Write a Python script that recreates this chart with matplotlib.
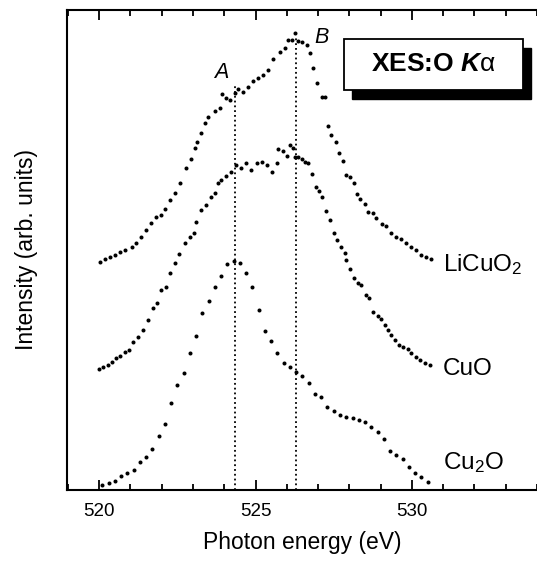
import matplotlib
matplotlib.use('Agg')
import matplotlib.pyplot as plt
from matplotlib.patches import Rectangle
from matplotlib.ticker import MultipleLocator

plt.rcParams['font.family'] = ['Liberation Sans', 'DejaVu Sans']
plt.rcParams['mathtext.fontset'] = 'custom'
plt.rcParams['mathtext.rm'] = 'Liberation Sans'
plt.rcParams['mathtext.it'] = 'Liberation Sans:italic'
plt.rcParams['mathtext.bf'] = 'Liberation Sans:bold:italic'

# --- data (photon energy in eV, intensity in arb. units) ---
licuo2_e = [520.02, 520.18, 520.34, 520.50, 520.66, 520.82, 521.04, 521.19, 521.35, 521.51,
            521.67, 521.83, 521.99, 522.10, 522.26, 522.42, 522.58, 522.79, 522.95, 523.06,
            523.14, 523.27, 523.38, 523.48, 523.70, 523.86, 523.94, 524.07, 524.18, 524.34,
            524.44, 524.60, 524.76, 524.92, 525.08, 525.24, 525.40, 525.56, 525.77, 525.93,
            526.04, 526.15, 526.25, 526.36, 526.47, 526.63, 526.73, 526.84, 526.96, 527.11,
            527.21, 527.32, 527.42, 527.56, 527.67, 527.80, 527.90, 528.03, 528.14, 528.24,
            528.35, 528.49, 528.59, 528.75, 528.86, 529.05, 529.18, 529.34, 529.50, 529.66,
            529.82, 529.98, 530.14, 530.30, 530.46, 530.62]
licuo2_i = [228, 231, 233, 235, 238, 240, 243, 247, 253, 260,
            267, 273, 275, 281, 290, 297, 307, 322, 331, 342,
            348, 357, 367, 373, 379, 382, 396, 392, 390, 397,
            401, 398, 403, 409, 412, 415, 420, 431, 438, 442,
            450, 450, 457, 449, 448, 445, 437, 422, 407, 393,
            393, 364, 355, 348, 337, 329, 315, 313, 307, 296,
            291, 286, 278, 277, 272, 266, 264, 257, 253, 251,
            247, 243, 240, 235, 233, 231]

cuo_e = [520.00, 520.13, 520.29, 520.40, 520.53, 520.66, 520.82, 520.96, 521.09, 521.25,
         521.41, 521.57, 521.73, 521.85, 521.99, 522.15, 522.26, 522.42, 522.56, 522.74,
         522.90, 523.03, 523.11, 523.27, 523.43, 523.59, 523.70, 523.80, 523.91, 524.07,
         524.23, 524.39, 524.55, 524.71, 524.87, 525.03, 525.19, 525.35, 525.54, 525.67,
         525.72, 525.88, 525.99, 526.09, 526.20, 526.25, 526.36, 526.47, 526.57, 526.68,
         526.82, 526.92, 527.03, 527.14, 527.24, 527.37, 527.50, 527.60, 527.74, 527.85,
         527.90, 528.01, 528.14, 528.27, 528.38, 528.52, 528.63, 528.75, 528.91, 529.02,
         529.13, 529.23, 529.34, 529.45, 529.58, 529.71, 529.87, 529.98, 530.12, 530.25,
         530.41, 530.57]
cuo_i = [121, 123, 125, 128, 132, 134, 138, 140, 148, 153,
         160, 170, 182, 187, 200, 203, 217, 227, 236, 247,
         253, 257, 268, 280, 285, 293, 297, 307, 310, 314,
         318, 325, 322, 327, 320, 327, 328, 325, 318, 327,
         341, 339, 334, 345, 342, 333, 333, 331, 328, 327,
         316, 303, 299, 293, 279, 270, 257, 250, 243, 237,
         230, 221, 212, 207, 205, 195, 192, 178, 174, 171,
         165, 160, 155, 150, 145, 143, 141, 137, 133, 130,
         127, 125]

cu2o_e = [520.1, 520.3, 520.5, 520.7, 520.9, 521.1, 521.3, 521.5, 521.7, 521.9,
          522.1, 522.3, 522.5, 522.7, 522.9, 523.1, 523.3, 523.5, 523.7, 523.9,
          524.1, 524.3, 524.5, 524.7, 524.9, 525.1, 525.3, 525.5, 525.7, 525.9,
          526.1, 526.3, 526.5, 526.7, 526.9, 527.1, 527.3, 527.5, 527.7, 527.9,
          528.1, 528.3, 528.5, 528.7, 528.9, 529.1, 529.3, 529.5, 529.7, 529.9,
          530.1, 530.3, 530.5]
cu2o_i = [5, 7, 9, 14, 17, 20, 28, 33, 41, 54,
          66, 87, 105, 117, 137, 154, 177, 189, 203, 214,
          226, 229, 227, 217, 203, 180, 159, 149, 137, 127,
          123, 118, 114, 107, 96, 93, 83, 79, 75, 73,
          72, 70, 68, 63, 58, 51, 39, 35, 31, 23,
          17, 13, 8]

names = ['LiCuO$_2$', 'CuO', 'Cu$_2$O']
name_levels = [219, 115, 21]

# peak markers A and B
peak_pos = [524.35, 526.29]
peak_top = [404, 452]
peak_names = ['A', 'B']
peak_label_x = [523.9, 527.1]
peak_label_y = [412, 447]

fig = plt.figure(figsize=(5.37, 5.61), dpi=100)
ax = fig.add_axes([67 / 537, 71 / 561, 470 / 537, 480 / 561])

for e, i in [(licuo2_e, licuo2_i), (cuo_e, cuo_i), (cu2o_e, cu2o_i)]:
    ax.plot(e, i, 'o', color='k', ms=2.9, mec='none')

for xp, yt in zip(peak_pos, peak_top):
    ax.vlines(xp, 0, yt, colors='k', linestyles=':', lw=1.3)

for n, xl, yl in zip(peak_names, peak_label_x, peak_label_y):
    ax.text(xl, yl, n, fontsize=15.5, style='italic', ha='center', va='baseline')

for n, yl in zip(names, name_levels):
    ax.text(531.0, yl, n, fontsize=17.5, ha='left', va='baseline')

ax.set_xlim(518.97, 534.0)
ax.set_ylim(0, 480)
ax.xaxis.set_major_locator(MultipleLocator(5))
ax.xaxis.set_minor_locator(MultipleLocator(1))
ax.tick_params(axis='x', which='both', direction='in', top=True, bottom=True,
               width=1.3, labelsize=13.5, pad=9)
ax.tick_params(axis='x', which='major', length=7.5)
ax.tick_params(axis='x', which='minor', length=4.5)
ax.set_yticks([])
for s in ['left', 'bottom', 'top']:
    ax.spines[s].set_linewidth(1.5)
ax.spines['right'].set_visible(False)

ax.set_xlabel('Photon energy (eV)', fontsize=16.5, labelpad=8)
ax.set_ylabel('Intensity (arb. units)', fontsize=16.5, labelpad=21)

# title box with drop shadow
ax.add_patch(Rectangle((0.607, 0.815), 0.381, 0.105, transform=ax.transAxes,
                       facecolor='k', edgecolor='k', zorder=4, clip_on=False))
ax.add_patch(Rectangle((0.589, 0.834), 0.381, 0.105, transform=ax.transAxes,
                       facecolor='white', edgecolor='k', lw=1.3, zorder=5))
ax.text(0.7795, 0.8865, r'XES:O $\mathbf{K}\mathrm{\alpha}$', transform=ax.transAxes,
        fontsize=19, fontweight='bold', ha='center', va='center', zorder=6)

fig.savefig('out.png', dpi=100)
